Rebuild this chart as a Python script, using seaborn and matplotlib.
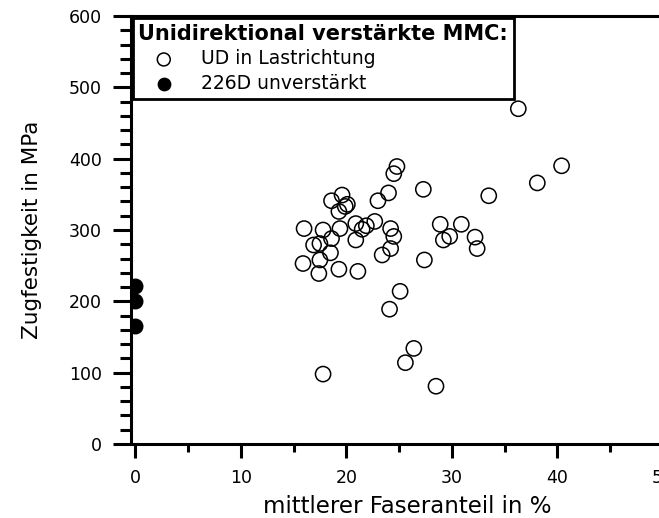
import seaborn as sns
import matplotlib.pyplot as plt
import pandas as pd
from matplotlib.ticker import MultipleLocator

# UD in Lastrichtung (open circles)
ud_faser = [16.0, 17.8, 19.4, 20.9, 21.5, 21.9, 22.7, 24.2, 24.5, 20.9, 17.5, 16.9,
            18.6, 18.5, 17.5, 15.9, 17.4, 19.3, 21.1, 23.4, 24.2, 25.1, 24.1, 18.6,
            19.6, 19.9, 19.3, 20.1, 24.0, 23.0, 24.8, 24.5, 36.3, 40.4, 38.1, 27.3,
            33.5, 28.9, 30.9, 29.8, 29.2, 32.2, 32.4, 27.4, 26.4, 25.6, 17.8, 28.5]
ud_festigkeit = [302, 300, 302, 309, 301, 306, 312, 302, 291, 286, 281, 279,
                 288, 268, 258, 253, 239, 245, 242, 265, 274, 214, 189, 341,
                 349, 333, 326, 336, 352, 341, 389, 379, 470, 390, 366, 357,
                 348, 308, 308, 291, 286, 290, 274, 258, 134, 114, 98, 81]

# 226D unverstaerkt (filled circles)
unv_faser = [0, 0, 0]
unv_festigkeit = [222, 200, 165]

ud = pd.DataFrame({'faser': ud_faser, 'festigkeit': ud_festigkeit})
unv = pd.DataFrame({'faser': unv_faser, 'festigkeit': unv_festigkeit})

sns.set_style('ticks', {'axes.edgecolor': 'black', 'text.color': 'black',
                        'xtick.color': 'black', 'ytick.color': 'black',
                        'axes.labelcolor': 'black'})
plt.rcParams['font.family'] = ['DejaVu Sans']

fig = plt.figure(figsize=(6.59, 5.18), dpi=100)
ax = fig.add_axes([131 / 659, 74 / 518, 553 / 659, 428 / 518])

sns.scatterplot(data=ud, x='faser', y='festigkeit', ax=ax, marker='o', s=120,
                color='black', edgecolor='black', linewidth=1.1,
                label='UD in Lastrichtung')
ax.collections[-1].set_facecolor('none')
sns.scatterplot(data=unv, x='faser', y='festigkeit', ax=ax, marker='o', s=110,
                color='black', edgecolor='black', linewidth=1,
                label='226D unverstärkt')

ax.set_xlim(-0.4, 52)
ax.set_ylim(0, 600)
ax.xaxis.set_major_locator(MultipleLocator(10))
ax.xaxis.set_minor_locator(MultipleLocator(5))
ax.yaxis.set_major_locator(MultipleLocator(100))
ax.yaxis.set_minor_locator(MultipleLocator(20))

for s in ax.spines.values():
    s.set_linewidth(2.2)
ax.tick_params(axis='x', which='major', length=10, width=2.2, pad=8, labelsize=12.5)
ax.tick_params(axis='x', which='minor', length=6, width=2.2)
ax.tick_params(axis='y', which='major', length=13, width=2.2, pad=8, labelsize=12.5)
ax.tick_params(axis='y', which='minor', length=8, width=2.2)

ax.set_xlabel('mittlerer Faseranteil in %', fontsize=16.5, labelpad=6)
ax.set_ylabel('Zugfestigkeit in MPa', fontsize=15.5, labelpad=19)

leg = ax.legend(title='Unidirektional verstärkte MMC:', loc='upper left',
                bbox_to_anchor=(0.003, 0.995), alignment='left',
                fontsize=13.5, title_fontproperties={'weight': 'bold', 'size': 15},
                frameon=True, fancybox=False, edgecolor='black', framealpha=1,
                borderpad=0.3, labelspacing=0.3, handletextpad=0.62,
                handlelength=2.72, borderaxespad=0, markerscale=0.85)
leg.get_frame().set_linewidth(2)

fig.savefig('out.png', dpi=100)
